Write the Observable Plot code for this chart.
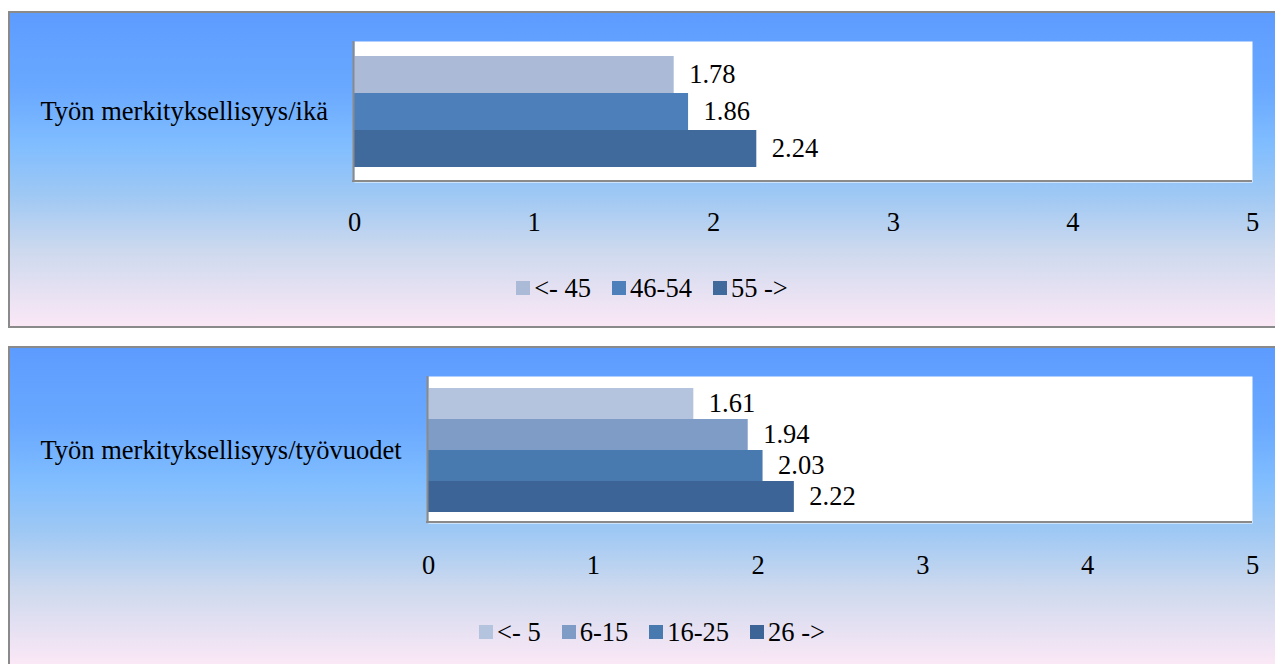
<!DOCTYPE html>
<html>
<head>
<meta charset="utf-8">
<script src="https://cdn.jsdelivr.net/npm/d3@7"></script>
<script src="https://cdn.jsdelivr.net/npm/@observablehq/plot@0.6"></script>
<style>
  html, body { margin: 0; padding: 0; background: #ffffff; }
  body { width: 1275px; height: 664px; position: relative; overflow: hidden; font-family: "Liberation Serif", "Times New Roman", serif; }
  .panel {
    position: absolute; left: 8px; width: 1288px; height: 317px; box-sizing: border-box;
    border: 2px solid #8a8a8a;
    background: linear-gradient(to bottom, #5d9cff 0%, #6aa9ff 25%, #80bdff 42%, #9ec8f4 58%, #cdd9ee 76%, #fbe8f6 100%);
  }
  .panel svg { position: absolute; left: 0; top: 0; }
  .legend {
    position: absolute; left: 0; width: 1284px; height: 30px; line-height: 30px;
    display: flex; justify-content: center; align-items: center;
    font-size: 26.5px; color: #000;
  }
  .legend .item { display: flex; align-items: center; margin: 0 10.5px; }
  .legend .sw { width: 14px; height: 14px; margin-right: 4px; }
</style>
</head>
<body>
<div class="panel" id="p1" style="top:11px"></div>
<div class="panel" id="p2" style="top:346px; height:320px"></div>
<script>
// ---- data ----
const xTicks = [0, 1, 2, 3, 4, 5];

const title1 = "Työn merkityksellisyys/ikä";
const ageGroups = ["<- 45", "46-54", "55 ->"];
const ageValues = [1.78, 1.86, 2.24];
const ageColors = ["#abbad6", "#4d80bb", "#40699c"];

const title2 = "Työn merkityksellisyys/työvuodet";
const yearGroups = ["<- 5", "6-15", "16-25", "26 ->"];
const yearValues = [1.61, 1.94, 2.03, 2.22];
const yearColors = ["#b5c4de", "#7f9cc7", "#4879af", "#3c6496"];

function makePanel(el, title, groups, values, colors, cfg) {
  const data = groups.map((g, i) => ({group: g, value: values[i]}));
  const W = 1284, H = 240;
  const top = 28;
  const plotH = cfg.frameBottom - top;
  const chart = Plot.plot({
    width: W,
    height: H,
    marginLeft: cfg.marginLeft,
    marginRight: 42,
    marginTop: top,
    marginBottom: H - cfg.frameBottom,
    style: {background: "transparent", fontFamily: "'Liberation Serif', 'Times New Roman', serif", fontSize: "26.5px", color: "#000", overflow: "visible"},
    x: {domain: [0, 5], ticks: xTicks, tickFormat: d => String(d), tickSize: 0, tickPadding: cfg.tickPadding, label: null},
    y: {domain: groups, paddingInner: 0, paddingOuter: cfg.padOuter, axis: null},
    color: {domain: groups, range: colors},
    marks: [
      Plot.frame({fill: "white", stroke: "none"}),
      Plot.barX(data, {x: "value", y: "group", fill: "group"}),
      Plot.ruleX([0], {stroke: "#8a8a8a", strokeWidth: 2, dx: -1}),
      Plot.rect([0], {x1: 0, x2: 5, fill: "#8a8a8a", insetTop: plotH - 2, insetLeft: -2}),
      Plot.text(data, {x: "value", y: "group", text: d => d.value.toFixed(2), dx: 15, textAnchor: "start", fill: "#000", fontSize: 26.5}),
      Plot.text([title], {frameAnchor: "left", dx: -(cfg.marginLeft - 30), dy: cfg.titleDy, textAnchor: "start", fill: "#000", fontSize: 26.5})
    ]
  });
  el.appendChild(chart);

  const leg = document.createElement("div");
  leg.className = "legend";
  leg.style.top = cfg.legendTop + "px";
  groups.forEach((g, i) => {
    const item = document.createElement("span");
    item.className = "item";
    const sw = document.createElement("span");
    sw.className = "sw";
    sw.style.background = colors[i];
    const tx = document.createElement("span");
    tx.textContent = g;
    item.appendChild(sw);
    item.appendChild(tx);
    leg.appendChild(item);
  });
  el.appendChild(leg);
}

makePanel(document.getElementById("p1"), title1, ageGroups, ageValues, ageColors,
  {marginLeft: 344, frameBottom: 169, padOuter: 0.385, tickPadding: 30, legendTop: 260, titleDy: 0});
makePanel(document.getElementById("p2"), title2, yearGroups, yearValues, yearColors,
  {marginLeft: 418, frameBottom: 175, padOuter: 0.333, tickPadding: 32, legendTop: 269, titleDy: 1});
</script>
</body>
</html>
